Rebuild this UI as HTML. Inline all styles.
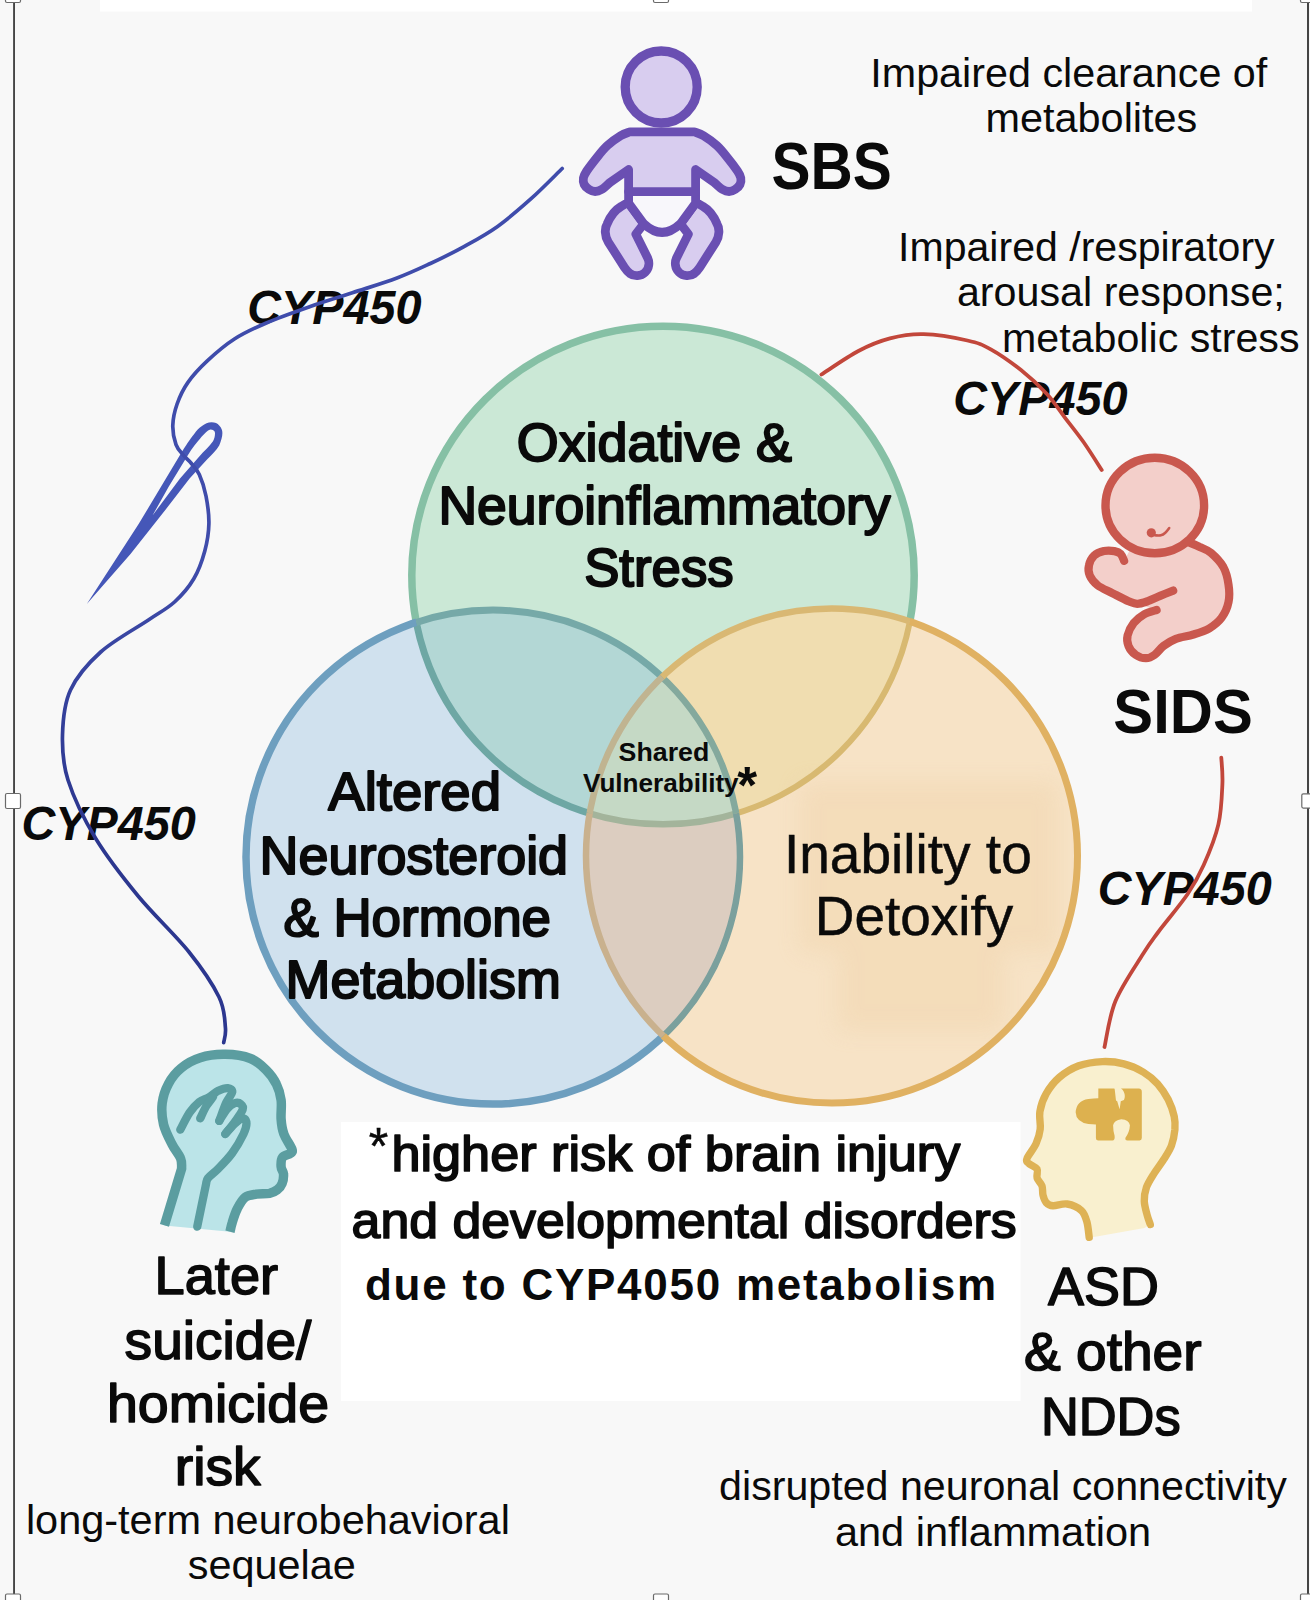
<!DOCTYPE html>
<html>
<head>
<meta charset="utf-8">
<title>CYP450 Shared Vulnerability Diagram</title>
<style>
html,body{margin:0;padding:0;background:#f8f8f8;}
body{width:1310px;height:1600px;overflow:hidden;font-family:"Liberation Sans",sans-serif;}
svg{display:block;position:absolute;left:0;top:0;}
text{font-family:"Liberation Sans",sans-serif;fill:#0a0a0a;}
</style>
</head>
<body>
<svg width="1310" height="1600" viewBox="0 0 1310 1600">
<!-- background -->
<rect x="0" y="0" width="1310" height="1600" fill="#f8f8f8"/>
<!-- top white strip -->
<rect x="100" y="0" width="1152" height="11.5" fill="#ffffff"/>
<!-- selection frame -->
<g id="frame">
<rect x="13.1" y="0" width="1.9" height="1600" fill="#454545"/>
<rect x="1307" y="0" width="2" height="1600" fill="#454545"/>
<g fill="#ffffff" stroke="#6a6a6a" stroke-width="1.2">
<rect x="5.5" y="-10" width="15" height="12.5" rx="1.5"/>
<rect x="653.5" y="-10" width="15" height="12.5" rx="1.5"/>
<rect x="1300.5" y="-10" width="15" height="12.5" rx="1.5"/>
<rect x="5.5" y="793.5" width="15" height="15" rx="1.5"/>
<rect x="1301.8" y="793.8" width="15" height="14.3" rx="1.5"/>
<rect x="5.5" y="1594" width="15" height="15" rx="1.5"/>
<rect x="653.5" y="1594" width="15" height="15" rx="1.5"/>
<rect x="1300.5" y="1594" width="15" height="15" rx="1.5"/>
</g>
</g>

<!-- VENN -->
<defs>
<clipPath id="cG"><ellipse cx="663" cy="575.3" rx="251.2" ry="249.0" /></clipPath>
<mask id="nG" maskUnits="userSpaceOnUse" x="0" y="0" width="1310" height="1600"><rect x="0" y="0" width="1310" height="1600" fill="#fff"/><ellipse cx="663" cy="575.3" rx="251.2" ry="249.0" fill="#000"/></mask>
<clipPath id="cB"><ellipse cx="493" cy="857.1" rx="247" ry="247" /></clipPath>
<mask id="nB" maskUnits="userSpaceOnUse" x="0" y="0" width="1310" height="1600"><rect x="0" y="0" width="1310" height="1600" fill="#fff"/><ellipse cx="493" cy="857.1" rx="247" ry="247" fill="#000"/></mask>
<clipPath id="cO"><ellipse cx="831.75" cy="855.85" rx="245.75" ry="247.25" /></clipPath>
<mask id="nO" maskUnits="userSpaceOnUse" x="0" y="0" width="1310" height="1600"><rect x="0" y="0" width="1310" height="1600" fill="#fff"/><ellipse cx="831.75" cy="855.85" rx="245.75" ry="247.25" fill="#000"/></mask>
<filter id="blur6" x="-20%" y="-20%" width="140%" height="140%"><feGaussianBlur stdDeviation="11"/></filter>
</defs>
<g id="venn">
<ellipse cx="663" cy="575.3" rx="251.2" ry="249.0" fill="#cbe8d6"/>
<ellipse cx="493" cy="857.1" rx="247" ry="247" fill="#d0e1ee"/>
<ellipse cx="831.75" cy="855.85" rx="245.75" ry="247.25" fill="#f7e3c6"/>
<g clip-path="url(#cG)"><ellipse cx="493" cy="857.1" rx="247" ry="247" fill="#b3d7d5"/></g>
<g clip-path="url(#cG)"><ellipse cx="831.75" cy="855.85" rx="245.75" ry="247.25" fill="#f0ddb0"/></g>
<g clip-path="url(#cB)"><ellipse cx="831.75" cy="855.85" rx="245.75" ry="247.25" fill="#dccdc0"/></g>
<g clip-path="url(#cG)"><g clip-path="url(#cB)"><ellipse cx="831.75" cy="855.85" rx="245.75" ry="247.25" fill="#c5d9c5"/></g></g>
<g clip-path="url(#cO)"><g filter="url(#blur6)" opacity="0.28">
<rect x="800" y="782" width="258" height="170" fill="#eccb9c"/>
<rect x="838" y="945" width="166" height="86" fill="#eccb9c"/>
</g></g>
<g mask="url(#nO)"><g mask="url(#nB)"><ellipse cx="663" cy="575.3" rx="251.2" ry="249.0" fill="none" stroke="#86c0a5" stroke-width="7.5"/></g></g>
<g mask="url(#nO)"><g clip-path="url(#cB)"><ellipse cx="663" cy="575.3" rx="251.2" ry="249.0" fill="none" stroke="#6ea7a4" stroke-width="7.0"/></g></g>
<g mask="url(#nB)"><g clip-path="url(#cO)"><ellipse cx="663" cy="575.3" rx="251.2" ry="249.0" fill="none" stroke="#d8b971" stroke-width="6.0"/></g></g>
<g clip-path="url(#cO)"><g clip-path="url(#cB)"><ellipse cx="663" cy="575.3" rx="251.2" ry="249.0" fill="none" stroke="#a3b49b" stroke-width="6.5"/></g></g>
<g mask="url(#nO)"><g mask="url(#nG)"><ellipse cx="493" cy="857.1" rx="247" ry="247" fill="none" stroke="#6e9fbf" stroke-width="7.5"/></g></g>
<g mask="url(#nO)"><g clip-path="url(#cG)"><ellipse cx="493" cy="857.1" rx="247" ry="247" fill="none" stroke="#76a9a8" stroke-width="7.0"/></g></g>
<g mask="url(#nG)"><g clip-path="url(#cO)"><ellipse cx="493" cy="857.1" rx="247" ry="247" fill="none" stroke="#7ba09d" stroke-width="6.5"/></g></g>
<g clip-path="url(#cO)"><g clip-path="url(#cG)"><ellipse cx="493" cy="857.1" rx="247" ry="247" fill="none" stroke="#84a99d" stroke-width="6.5"/></g></g>
<g mask="url(#nB)"><g mask="url(#nG)"><ellipse cx="831.75" cy="855.85" rx="245.75" ry="247.25" fill="none" stroke="#e0b162" stroke-width="7.0"/></g></g>
<g mask="url(#nB)"><g clip-path="url(#cG)"><ellipse cx="831.75" cy="855.85" rx="245.75" ry="247.25" fill="none" stroke="#d9b873" stroke-width="6.5"/></g></g>
<g mask="url(#nG)"><g clip-path="url(#cB)"><ellipse cx="831.75" cy="855.85" rx="245.75" ry="247.25" fill="none" stroke="#c9b18e" stroke-width="6.5"/></g></g>
<g clip-path="url(#cB)"><g clip-path="url(#cG)"><ellipse cx="831.75" cy="855.85" rx="245.75" ry="247.25" fill="none" stroke="#c0b491" stroke-width="6.5"/></g></g>
</g>

<!-- white note box -->
<rect x="341" y="1122" width="679.5" height="279" fill="#ffffff"/>

<!-- ICONS -->
<g id="icons">
<g id="baby" stroke="#6a4fb2" stroke-width="8.8" stroke-linejoin="round" stroke-linecap="round">
<path d="M628.6 203.2 L643.8 223.8 L635.8 234.1 L647.8 258.2 C649.5 262 649.5 268 645 272.5 C641 276.5 634 276.5 630.1 273.6 C627 271 625.5 269 624.4 267.3 L608.3 242.1 C604.5 236 604.5 228 607.2 223.8 C610 217 615 210 620.9 206.6 C624 204.5 626 203.5 628.6 203.2 Z" fill="#d8cdef"/>
<path d="M628.6 203.2 L643.8 223.8 L635.8 234.1 L647.8 258.2 C649.5 262 649.5 268 645 272.5 C641 276.5 634 276.5 630.1 273.6 C627 271 625.5 269 624.4 267.3 L608.3 242.1 C604.5 236 604.5 228 607.2 223.8 C610 217 615 210 620.9 206.6 C624 204.5 626 203.5 628.6 203.2 Z" fill="#d8cdef" transform="translate(1324.2 0) scale(-1 1)"/>
<path d="M628.6 191.6 L628.6 203.2 L643.8 223.8 Q662.1 241 680.4 223.8 L695.6 203.2 L695.6 191.6 Z" fill="#f8f7fb"/>
<path d="M628.6 191.6 L628.6 169.5 L609.8 182.6 C608.4 183.8 604.0 188.1 601.5 189.6 C599.0 191.1 597.2 191.5 595.1 191.5 C593.0 191.5 590.8 190.6 589.0 189.4 C587.2 188.2 585.1 186.4 584.2 184.5 C583.3 182.6 583.0 180.2 583.4 178.0 C583.8 175.8 584.5 174.4 586.7 171.0 C589.0 167.6 593.5 161.8 596.9 157.5 C600.3 153.2 603.4 149.1 607.4 145.5 C611.4 141.9 616.8 138.0 620.6 135.7 C624.4 133.4 628.4 132.5 630.0 131.8 L694.2 131.8 C695.8 132.5 699.8 133.4 703.6 135.7 C707.4 138.0 712.9 141.9 716.8 145.5 C720.8 149.1 723.9 153.2 727.3 157.5 C730.8 161.8 735.2 167.6 737.5 171.0 C739.8 174.4 740.4 175.8 740.8 178.0 C741.2 180.2 740.9 182.6 740.0 184.5 C739.1 186.4 737.0 188.2 735.2 189.4 C733.4 190.6 731.2 191.5 729.1 191.5 C727.0 191.5 725.2 191.1 722.7 189.6 C720.2 188.1 715.8 183.8 714.4 182.6 L695.6 169.5 L695.6 191.6 Z" fill="#d8cdef"/>
<circle cx="661.2" cy="87" r="36" fill="#d8cdef" stroke-width="9.3"/>
</g>
<g id="fetus" stroke="#c9584e" stroke-width="8.2" stroke-linecap="round" stroke-linejoin="round" fill="none">
<path d="M1124.1 560.8 C1123.5 559.6 1122.2 555.4 1120.6 553.8 C1119.0 552.2 1117.2 551.6 1114.4 551.1 C1111.6 550.7 1107.3 550.4 1103.9 551.1 C1100.5 551.9 1096.7 553.2 1094.2 555.5 C1091.7 557.9 1089.7 561.8 1089.0 565.2 C1088.2 568.5 1088.4 572.4 1089.8 575.7 C1091.3 579.1 1093.9 582.4 1097.7 585.4 C1101.5 588.3 1107.5 590.6 1112.7 593.3 C1117.8 595.9 1124.4 599.4 1128.5 601.2 C1132.6 602.9 1135.8 603.4 1137.2 603.8 L1156.6 610.0 C1154.5 610.7 1148.1 612.1 1144.3 614.3 C1140.5 616.5 1136.5 619.6 1133.7 623.1 C1131.0 626.6 1128.5 631.6 1127.6 635.4 C1126.7 639.2 1127.2 642.7 1128.5 645.9 C1129.8 649.2 1132.6 652.7 1135.5 654.7 C1138.4 656.8 1142.8 658.2 1146.0 658.2 C1149.2 658.2 1151.9 656.8 1154.8 654.7 C1157.7 652.7 1160.1 648.6 1163.6 645.9 C1167.1 643.3 1170.9 640.8 1175.9 638.9 C1180.8 637.0 1187.9 636.3 1193.4 634.5 C1199.0 632.8 1204.5 631.2 1209.2 628.4 C1213.9 625.6 1218.3 622.2 1221.5 617.9 C1224.7 613.5 1227.4 607.6 1228.5 602.1 C1229.7 596.5 1229.4 590.3 1228.5 584.5 C1227.7 578.6 1226.2 572.2 1223.3 566.9 C1220.3 561.7 1214.8 556.2 1211.0 552.9 C1207.2 549.6 1204.1 549.0 1200.4 547.3 C1196.8 545.5 1190.9 543.2 1189.0 542.4 L1154 505 Z" fill="#f3cfca" stroke="none"/>
<path d="M1189.0 542.4 C1190.9 543.2 1196.8 545.5 1200.4 547.3 C1204.1 549.0 1207.2 549.6 1211.0 552.9 C1214.8 556.2 1220.3 561.7 1223.3 566.9 C1226.2 572.2 1227.7 578.6 1228.5 584.5 C1229.4 590.3 1229.7 596.5 1228.5 602.1 C1227.4 607.6 1224.7 613.5 1221.5 617.9 C1218.3 622.2 1213.9 625.6 1209.2 628.4 C1204.5 631.2 1199.0 632.8 1193.4 634.5 C1187.9 636.3 1180.8 637.0 1175.9 638.9 C1170.9 640.8 1167.1 643.3 1163.6 645.9 C1160.1 648.6 1157.7 652.7 1154.8 654.7 C1151.9 656.8 1149.2 658.2 1146.0 658.2 C1142.8 658.2 1138.4 656.8 1135.5 654.7 C1132.6 652.7 1129.8 649.2 1128.5 645.9 C1127.2 642.7 1126.7 639.2 1127.6 635.4 C1128.5 631.6 1131.0 626.6 1133.7 623.1 C1136.5 619.6 1140.5 616.5 1144.3 614.3 C1148.1 612.1 1154.5 610.7 1156.6 610.0"/>
<path d="M1124.1 560.8 C1123.5 559.6 1122.2 555.4 1120.6 553.8 C1119.0 552.2 1117.2 551.6 1114.4 551.1 C1111.6 550.7 1107.3 550.4 1103.9 551.1 C1100.5 551.9 1096.7 553.2 1094.2 555.5 C1091.7 557.9 1089.7 561.8 1089.0 565.2 C1088.2 568.5 1088.4 572.4 1089.8 575.7 C1091.3 579.1 1093.9 582.4 1097.7 585.4 C1101.5 588.3 1107.5 590.6 1112.7 593.3 C1117.8 595.9 1124.4 599.4 1128.5 601.2 C1132.6 602.9 1134.0 603.8 1137.2 603.8 C1140.5 603.8 1144.0 602.5 1147.8 601.2 C1151.6 599.9 1155.8 597.7 1160.1 595.9 C1164.3 594.2 1171.0 591.5 1173.2 590.6"/>
<ellipse cx="1154.8" cy="505.5" rx="49.3" ry="47.7" fill="#f3cfca" stroke-width="8.4"/>
<circle cx="1151.3" cy="532.8" r="4.6" fill="#c9584e" stroke="none"/>
<path d="M1154.8 535.3 C1155.8 535.3 1159.2 535.8 1160.9 535.3 C1162.7 534.9 1164.0 533.9 1165.3 532.7 C1166.7 531.5 1168.6 528.8 1169.2 528.0" stroke-width="2.6"/>
</g>
<g id="tealhead" stroke="#5b9da0" stroke-width="9.6" stroke-linecap="butt" stroke-linejoin="round" fill="none" transform="translate(222 1125) scale(0.987) translate(-222 -1125)">
<path d="M163.7 1226.8 L181.1 1169.2 C180.9 1167.5 181.7 1162.8 180.0 1158.7 C178.4 1154.5 174.1 1150.0 171.3 1144.3 C168.4 1138.6 164.5 1131.4 162.8 1124.5 C161.2 1117.6 160.6 1109.7 161.4 1102.9 C162.3 1096.0 164.6 1089.1 167.8 1083.2 C170.9 1077.3 175.2 1071.8 180.6 1067.4 C185.9 1063.0 192.4 1059.2 199.9 1056.9 C207.3 1054.5 216.9 1053.2 225.3 1053.4 C233.8 1053.5 243.9 1054.9 250.8 1057.6 C257.7 1060.2 262.2 1064.8 266.6 1069.2 C271.0 1073.5 274.6 1078.4 277.1 1083.6 C279.7 1088.7 281.1 1093.9 281.9 1099.9 C282.7 1105.8 281.4 1113.5 281.9 1119.2 C282.3 1124.9 282.8 1129.1 284.7 1134.1 C286.5 1139.2 291.8 1146.3 292.9 1149.6 C294.0 1152.8 292.8 1152.4 291.2 1153.8 C289.6 1155.2 284.8 1155.5 283.3 1157.8 C281.7 1160.1 281.7 1164.7 281.9 1167.5 C282.0 1170.3 284.2 1171.7 284.3 1174.5 C284.5 1177.3 284.0 1181.5 282.9 1184.2 C281.9 1186.8 280.1 1189.0 278.0 1190.6 C275.9 1192.3 273.6 1193.4 270.1 1194.2 C266.6 1194.9 261.0 1194.4 256.9 1195.0 C252.8 1195.7 248.7 1195.8 245.5 1198.2 C242.3 1200.6 239.8 1205.4 237.6 1209.6 C235.4 1213.8 233.6 1219.7 232.4 1223.7 C231.1 1227.6 230.5 1231.6 230.1 1233.1" fill="#bbe4e8"/>
<path d="M179.7 1129.7 C181.3 1126.8 186.1 1116.9 189.3 1112.2 C192.6 1107.5 195.8 1104.2 199.0 1101.6 C202.2 1099.1 205.4 1098.8 208.7 1096.9 C211.9 1095.0 215.1 1091.8 218.3 1090.2 C221.5 1088.7 225.6 1087.4 228.0 1087.6 C230.3 1087.8 232.7 1089.1 232.4 1091.6 C232.1 1094.1 228.4 1097.6 226.2 1102.5 C224.0 1107.4 220.4 1117.9 219.2 1120.9" stroke-width="8.4" stroke-linecap="round"/>
<path d="M199.9 1118.3 C200.9 1116.3 203.8 1109.7 206.0 1106.0 C208.2 1102.4 211.9 1098.0 213.0 1096.4" stroke-width="8.4" stroke-linecap="round"/>
<path d="M219.2 1120.9 C220.5 1118.9 224.5 1111.7 227.1 1108.7 C229.7 1105.6 232.7 1103.7 235.0 1102.9 C237.3 1102.1 239.8 1102.8 241.1 1103.9 C242.5 1105.0 243.9 1106.6 242.9 1109.5 C241.9 1112.5 237.9 1117.7 235.0 1121.8 C232.1 1125.9 226.9 1132.1 225.3 1134.1" stroke-width="8.4" stroke-linecap="round"/>
<path d="M225.3 1134.1 C227.1 1132.2 232.8 1125.3 235.9 1122.7 C238.9 1120.1 242.0 1118.2 243.8 1118.3 C245.6 1118.5 246.8 1120.9 246.8 1123.6 C246.8 1126.2 246.2 1129.1 243.8 1134.1 C241.4 1139.1 236.6 1147.6 232.4 1153.4 C228.1 1159.3 222.4 1165.0 218.3 1169.2 C214.2 1173.5 210.0 1175.7 207.8 1178.9 C205.6 1182.1 207.0 1180.3 205.1 1188.5 C203.3 1196.7 198.3 1221.5 196.9 1228.0" stroke-width="8.4" stroke-linecap="round"/>
</g>
<g id="yellowhead" stroke="#deb255" stroke-width="7.4" stroke-linecap="round" stroke-linejoin="round" fill="none">
<path d="M1089.2 1237.3 C1088.8 1234.8 1088.2 1226.4 1086.9 1221.9 C1085.6 1217.4 1084.6 1213.5 1081.3 1210.5 C1078.0 1207.5 1072.0 1204.8 1067.2 1204.0 C1062.5 1203.2 1056.4 1206.0 1052.9 1205.7 C1049.3 1205.5 1047.8 1204.3 1046.2 1202.6 C1044.5 1200.8 1043.7 1198.0 1043.0 1195.2 C1042.3 1192.4 1043.0 1188.8 1042.0 1185.9 C1041.0 1183.0 1037.9 1180.8 1037.1 1178.0 C1036.2 1175.2 1038.4 1171.6 1037.1 1169.2 C1035.7 1166.8 1030.7 1165.4 1029.0 1163.6 C1027.3 1161.9 1025.7 1162.0 1026.9 1158.7 C1028.0 1155.4 1033.8 1148.7 1036.0 1143.8 C1038.2 1138.9 1039.6 1134.6 1040.2 1129.2 C1040.9 1123.8 1038.9 1117.6 1039.9 1111.6 C1040.9 1105.7 1042.9 1099.4 1046.2 1093.7 C1049.4 1088.0 1053.9 1082.1 1059.3 1077.4 C1064.8 1072.8 1071.5 1068.5 1078.7 1065.8 C1085.8 1063.2 1094.8 1061.9 1102.4 1061.6 C1109.9 1061.3 1117.0 1062.1 1123.8 1063.9 C1130.6 1065.6 1137.6 1068.8 1143.3 1072.1 C1148.9 1075.5 1153.5 1079.3 1157.7 1083.9 C1161.8 1088.5 1165.4 1094.1 1168.2 1099.5 C1170.9 1104.9 1173.1 1111.4 1174.2 1116.4 C1175.3 1121.4 1175.3 1124.7 1174.9 1129.6 C1174.4 1134.4 1173.3 1140.6 1171.5 1145.5 C1169.7 1150.4 1166.9 1154.4 1164.0 1159.0 C1161.1 1163.7 1156.9 1168.9 1154.0 1173.6 C1151.0 1178.4 1148.0 1182.9 1146.4 1187.5 C1144.8 1192.1 1144.2 1196.6 1144.3 1201.2 C1144.4 1205.7 1146.1 1211.0 1147.1 1214.9 C1148.1 1218.8 1149.8 1222.9 1150.3 1224.5 L1144.5 1228.0 L1095.3 1236.8 Z" fill="#f9f0cf" stroke="none"/>
<path d="M1089.2 1237.3 C1088.8 1234.8 1088.2 1226.4 1086.9 1221.9 C1085.6 1217.4 1084.6 1213.5 1081.3 1210.5 C1078.0 1207.5 1072.0 1204.8 1067.2 1204.0 C1062.5 1203.2 1056.4 1206.0 1052.9 1205.7 C1049.3 1205.5 1047.8 1204.3 1046.2 1202.6 C1044.5 1200.8 1043.7 1198.0 1043.0 1195.2 C1042.3 1192.4 1043.0 1188.8 1042.0 1185.9 C1041.0 1183.0 1037.9 1180.8 1037.1 1178.0 C1036.2 1175.2 1038.4 1171.6 1037.1 1169.2 C1035.7 1166.8 1030.7 1165.4 1029.0 1163.6 C1027.3 1161.9 1025.7 1162.0 1026.9 1158.7 C1028.0 1155.4 1033.8 1148.7 1036.0 1143.8 C1038.2 1138.9 1039.6 1134.6 1040.2 1129.2 C1040.9 1123.8 1038.9 1117.6 1039.9 1111.6 C1040.9 1105.7 1042.9 1099.4 1046.2 1093.7 C1049.4 1088.0 1053.9 1082.1 1059.3 1077.4 C1064.8 1072.8 1071.5 1068.5 1078.7 1065.8 C1085.8 1063.2 1094.8 1061.9 1102.4 1061.6 C1109.9 1061.3 1117.0 1062.1 1123.8 1063.9 C1130.6 1065.6 1137.6 1068.8 1143.3 1072.1 C1148.9 1075.5 1153.5 1079.3 1157.7 1083.9 C1161.8 1088.5 1165.4 1094.1 1168.2 1099.5 C1170.9 1104.9 1173.1 1111.4 1174.2 1116.4 C1175.3 1121.4 1175.3 1124.7 1174.9 1129.6 C1174.4 1134.4 1173.3 1140.6 1171.5 1145.5 C1169.7 1150.4 1166.9 1154.4 1164.0 1159.0 C1161.1 1163.7 1156.9 1168.9 1154.0 1173.6 C1151.0 1178.4 1148.0 1182.9 1146.4 1187.5 C1144.8 1192.1 1144.2 1196.6 1144.3 1201.2 C1144.4 1205.7 1146.1 1211.0 1147.1 1214.9 C1148.1 1218.8 1149.8 1222.9 1150.3 1224.5"/>
<path d="M485 125 H715 Q722 125 724 140 L742 300 L760 310 L795 425 L812 310 L858 292 Q885 235 855 172 Q840 140 815 125 H1075 Q1118 128 1118 170 V845 Q1118 880 1085 880 H910 Q870 878 880 840 Q940 760 945 660 Q930 575 820 570 Q715 580 700 660 Q700 740 722 810 Q730 878 690 880 H485 Q450 880 450 848 V648 Q400 648 340 642 Q160 610 155 470 Q165 300 340 275 Q420 266 485 265 Z" fill="#ddb14f" stroke="none" transform="translate(1065 1080) scale(0.06870)"/>
</g>
</g>

<!-- TEXT -->
<g id="texts">
<text id="t1" x="870.3" y="86.5" font-size="41.0" font-weight="normal" textLength="397.0" lengthAdjust="spacingAndGlyphs" xml:space="preserve">Impaired clearance of</text>
<text id="t2" x="985.5" y="132.4" font-size="41.0" font-weight="normal" textLength="211.8" lengthAdjust="spacingAndGlyphs" xml:space="preserve">metabolites</text>
<text id="t3" x="898.1" y="260.5" font-size="41.0" font-weight="normal" textLength="376.5" lengthAdjust="spacingAndGlyphs" xml:space="preserve">Impaired /respiratory</text>
<text id="t4" x="956.9" y="306.3" font-size="41.0" font-weight="normal" textLength="327.9" lengthAdjust="spacingAndGlyphs" xml:space="preserve">arousal response;</text>
<text id="t5" x="1002.0" y="352.0" font-size="41.0" font-weight="normal" textLength="297.5" lengthAdjust="spacingAndGlyphs" xml:space="preserve">metabolic stress</text>
<text id="c1" x="247.2" y="324.2" font-size="47.7" font-weight="bold" font-style="italic" textLength="174.3" lengthAdjust="spacingAndGlyphs" xml:space="preserve">CYP450</text>
<text id="c2" x="953.3" y="415.0" font-size="47.7" font-weight="bold" font-style="italic" textLength="174.3" lengthAdjust="spacingAndGlyphs" xml:space="preserve">CYP450</text>
<text id="c3" x="21.4" y="839.6" font-size="47.7" font-weight="bold" font-style="italic" textLength="174.4" lengthAdjust="spacingAndGlyphs" xml:space="preserve">CYP450</text>
<text id="c4" x="1097.8" y="904.8" font-size="47.7" font-weight="bold" font-style="italic" textLength="174.0" lengthAdjust="spacingAndGlyphs" xml:space="preserve">CYP450</text>
<text id="sbs" x="771.6" y="188.9" font-size="66.8" font-weight="bold" textLength="120.3" lengthAdjust="spacingAndGlyphs" xml:space="preserve">SBS</text>
<text id="sids" x="1113.3" y="733.4" font-size="63.8" font-weight="bold" textLength="139.5" lengthAdjust="spacingAndGlyphs" xml:space="preserve">SIDS</text>
<text id="sh1" x="618.6" y="761.0" font-size="25.6" font-weight="bold" textLength="90.7" lengthAdjust="spacingAndGlyphs" xml:space="preserve">Shared</text>
<text id="sh2" x="583.0" y="791.8" font-size="25.6" font-weight="bold" textLength="155.6" lengthAdjust="spacingAndGlyphs" xml:space="preserve">Vulnerability</text>
<text id="o1" x="516.8" y="460.8" font-size="53.95" font-weight="normal" stroke="#0a0a0a" stroke-width="2.1" stroke-linejoin="round" textLength="275.2" lengthAdjust="spacingAndGlyphs" xml:space="preserve">Oxidative &amp;</text>
<text id="o2" x="438.4" y="523.8" font-size="53.95" font-weight="normal" stroke="#0a0a0a" stroke-width="2.1" stroke-linejoin="round" textLength="452.1" lengthAdjust="spacingAndGlyphs" xml:space="preserve">Neuroinflammatory</text>
<text id="o3" x="584.2" y="586.2" font-size="53.95" font-weight="normal" stroke="#0a0a0a" stroke-width="2.1" stroke-linejoin="round" textLength="149.5" lengthAdjust="spacingAndGlyphs" xml:space="preserve">Stress</text>
<text id="a1" x="328.3" y="809.7" font-size="53.95" font-weight="normal" stroke="#0a0a0a" stroke-width="2.1" stroke-linejoin="round" textLength="172.7" lengthAdjust="spacingAndGlyphs" xml:space="preserve">Altered</text>
<text id="a2" x="259.6" y="873.7" font-size="53.95" font-weight="normal" stroke="#0a0a0a" stroke-width="2.1" stroke-linejoin="round" textLength="308.5" lengthAdjust="spacingAndGlyphs" xml:space="preserve">Neurosteroid</text>
<text id="a3" x="283.4" y="935.5" font-size="53.95" font-weight="normal" stroke="#0a0a0a" stroke-width="2.1" stroke-linejoin="round" textLength="267.6" lengthAdjust="spacingAndGlyphs" xml:space="preserve">&amp; Hormone</text>
<text id="a4" x="285.6" y="997.7" font-size="53.95" font-weight="normal" stroke="#0a0a0a" stroke-width="2.1" stroke-linejoin="round" textLength="275.2" lengthAdjust="spacingAndGlyphs" xml:space="preserve">Metabolism</text>
<text id="i1" x="783.9" y="873.2" font-size="55.77" font-weight="normal" stroke="#0a0a0a" stroke-width="0.5" textLength="247.9" lengthAdjust="spacingAndGlyphs" xml:space="preserve">Inability to</text>
<text id="i2" x="814.8" y="934.8" font-size="55.77" font-weight="normal" stroke="#0a0a0a" stroke-width="0.5" textLength="198.3" lengthAdjust="spacingAndGlyphs" xml:space="preserve">Detoxify</text>
<text id="n1a" x="368.8" y="1164.2" font-size="52.27" font-weight="normal" stroke="#0a0a0a" stroke-width="0.5" textLength="19.5" lengthAdjust="spacingAndGlyphs" xml:space="preserve">*</text>
<text id="n1" x="391.4" y="1171.4" font-size="50.53" font-weight="normal" stroke="#0a0a0a" stroke-width="1.7" stroke-linejoin="round" textLength="568.9" lengthAdjust="spacingAndGlyphs" xml:space="preserve">higher risk of brain injury</text>
<text id="n2" x="351.6" y="1237.8" font-size="50.53" font-weight="normal" stroke="#0a0a0a" stroke-width="1.7" stroke-linejoin="round" textLength="665.1" lengthAdjust="spacingAndGlyphs" xml:space="preserve">and developmental disorders</text>
<text id="n3" x="365.0" y="1299.8" font-size="44.0" font-weight="bold" letter-spacing="1.74" xml:space="preserve">due to CYP4050 metabolism</text>
<text id="l1" x="154.6" y="1294.2" font-size="53.67" font-weight="normal" stroke="#0a0a0a" stroke-width="1.6" stroke-linejoin="round" textLength="123.5" lengthAdjust="spacingAndGlyphs" xml:space="preserve">Later</text>
<text id="l2" x="124.6" y="1359.2" font-size="53.67" font-weight="normal" stroke="#0a0a0a" stroke-width="1.6" stroke-linejoin="round" textLength="186.8" lengthAdjust="spacingAndGlyphs" xml:space="preserve">suicide/</text>
<text id="l3" x="107.0" y="1422.4" font-size="53.67" font-weight="normal" stroke="#0a0a0a" stroke-width="1.6" stroke-linejoin="round" textLength="222.0" lengthAdjust="spacingAndGlyphs" xml:space="preserve">homicide</text>
<text id="l4" x="174.8" y="1484.7" font-size="53.67" font-weight="normal" stroke="#0a0a0a" stroke-width="1.6" stroke-linejoin="round" textLength="85.8" lengthAdjust="spacingAndGlyphs" xml:space="preserve">risk</text>
<text id="l5" x="25.9" y="1533.7" font-size="41.0" font-weight="normal" textLength="484.0" lengthAdjust="spacingAndGlyphs" xml:space="preserve">long-term neurobehavioral</text>
<text id="l6" x="187.7" y="1579.3" font-size="41.0" font-weight="normal" textLength="168.2" lengthAdjust="spacingAndGlyphs" xml:space="preserve">sequelae</text>
<text id="d1" x="1048.1" y="1305.1" font-size="53.67" font-weight="normal" stroke="#0a0a0a" stroke-width="1.6" stroke-linejoin="round" textLength="110.8" lengthAdjust="spacingAndGlyphs" xml:space="preserve">ASD</text>
<text id="d2" x="1024.0" y="1370.1" font-size="53.67" font-weight="normal" stroke="#0a0a0a" stroke-width="1.6" stroke-linejoin="round" textLength="177.5" lengthAdjust="spacingAndGlyphs" xml:space="preserve">&amp; other</text>
<text id="d3" x="1040.9" y="1434.6" font-size="53.67" font-weight="normal" stroke="#0a0a0a" stroke-width="1.6" stroke-linejoin="round" textLength="139.7" lengthAdjust="spacingAndGlyphs" xml:space="preserve">NDDs</text>
<text id="d4" x="719.1" y="1500.4" font-size="41.0" font-weight="normal" textLength="567.8" lengthAdjust="spacingAndGlyphs" xml:space="preserve">disrupted neuronal connectivity</text>
<text id="d5" x="834.9" y="1546.2" font-size="41.0" font-weight="normal" textLength="316.3" lengthAdjust="spacingAndGlyphs" xml:space="preserve">and inflammation</text>
<text id="ast" x="737.3" y="802.7" font-size="51" font-weight="bold">*</text>
</g>

<!-- THREADS -->
<defs><linearGradient id="bthr" gradientUnits="userSpaceOnUse" x1="0" y1="560" x2="0" y2="820"><stop offset="0" stop-color="#3f4cab"/><stop offset="1" stop-color="#2c378f"/></linearGradient></defs>
<g id="threads" fill="none" stroke-linecap="round">
<path fill="#4557b8" fill-rule="evenodd" stroke="none" d="M86.8 604 L138.8 523.8 L180 455 C186 445 190 439 193.8 434.4 C197 430 199 428 202 426.1 C205 424 208 422.3 211.6 422.3 C215 422.3 217.5 423.5 219.2 425.4 C221.5 428 222.4 430 222.4 433 C222.4 437 221 441 219.2 445.4 C216 451 212 454 207.5 459 L189.6 478.4 L165.3 510 L130.5 554 Z M210.3 429.6 C213 429.6 215 431 215 433 C215 436 214.5 438.5 213 441.3 C209 447 204 451 199.3 456.4 L180 478.4 L152.5 515.5 L168.8 486.6 L188 455 C192.3 448 196.3 443 200.2 438.5 C202 436.3 204 434 206 432.3 C207.3 431 208.8 430.2 210.3 429.6 Z"/>
<path d="M562.2 168.5 C557.0 173.5 541.9 189.0 531.1 198.7 C520.3 208.3 508.8 218.4 497.6 226.4 C486.4 234.4 475.2 240.4 464.0 246.6 C452.8 252.8 441.6 258.3 430.4 263.5 C419.2 268.7 410.0 273.1 397.0 278.0 C384.0 282.9 367.0 288.0 352.4 292.8 C337.8 297.6 323.9 301.7 309.6 306.7 C295.4 311.7 279.4 317.3 266.9 322.7 C254.4 328.1 244.8 332.4 234.8 338.8 C224.8 345.2 214.8 353.9 207.0 361.2 C199.2 368.5 192.8 375.5 187.8 382.6 C182.8 389.7 179.6 396.9 177.1 404.0 C174.6 411.1 173.0 418.5 172.8 425.3 C172.6 432.1 174.2 439.6 176.0 444.6 C177.8 449.6 181.0 452.2 183.5 455.3 C186.0 458.4 188.4 459.8 191.0 463.0 C193.6 466.2 196.8 469.0 199.3 474.5 C201.8 480.0 204.4 487.8 206.0 496.0 C207.6 504.2 209.1 514.6 208.9 523.8 C208.7 533.0 207.3 541.8 204.8 551.0 C202.3 560.2 198.9 570.3 193.8 578.8 C188.8 587.3 182.1 595.1 174.5 602.0 C166.9 608.9 160.7 611.7 148.4 620.0 C136.1 628.3 113.7 640.3 100.7 652.0 C87.7 663.7 76.9 676.2 70.5 690.0 C64.1 703.8 62.9 720.0 62.5 735.0 C62.1 750.0 62.5 762.8 68.0 780.0 C73.5 797.2 84.0 819.1 95.7 838.5 C107.5 857.9 123.0 877.6 138.5 896.5 C154.1 915.4 175.6 935.2 189.0 952.0 C202.4 968.8 212.9 984.4 219.0 997.0 C225.1 1009.6 224.6 1019.9 225.4 1027.5 C226.2 1035.1 224.0 1040.1 223.7 1042.6" stroke="url(#bthr)" stroke-width="3.7"/>
<path d="M821.4 374.5 C827.6 370.6 847.0 357.0 858.4 351.0 C869.8 345.0 879.1 341.2 890.0 338.4 C900.9 335.6 910.7 333.8 923.6 334.2 C936.5 334.6 956.2 338.0 967.4 340.5 C978.6 343.0 981.9 344.4 990.8 349.3 C999.7 354.2 1011.6 362.6 1021.0 370.0 C1030.3 377.4 1039.6 386.1 1046.9 394.0 C1054.2 401.9 1058.6 409.3 1064.7 417.3 C1070.8 425.3 1077.3 433.2 1083.5 442.0 C1089.7 450.8 1098.7 465.3 1101.7 470.0" stroke="#c2473b" stroke-width="3.8"/>
<path d="M1221.3 757.7 C1221.5 762.1 1222.9 772.7 1222.4 783.8 C1221.9 794.9 1221.5 810.9 1218.4 824.4 C1215.3 837.9 1208.9 853.4 1203.7 865.0 C1198.5 876.6 1195.1 883.1 1187.5 894.3 C1179.9 905.5 1165.7 922.0 1158.3 932.0 C1150.9 942.0 1150.1 942.5 1143.0 954.0 C1135.9 965.5 1121.9 985.5 1115.5 1001.0 C1109.1 1016.5 1106.3 1039.3 1104.5 1047.0" stroke="#c2473b" stroke-width="3.8"/>
</g>
</svg>
</body>
</html>
